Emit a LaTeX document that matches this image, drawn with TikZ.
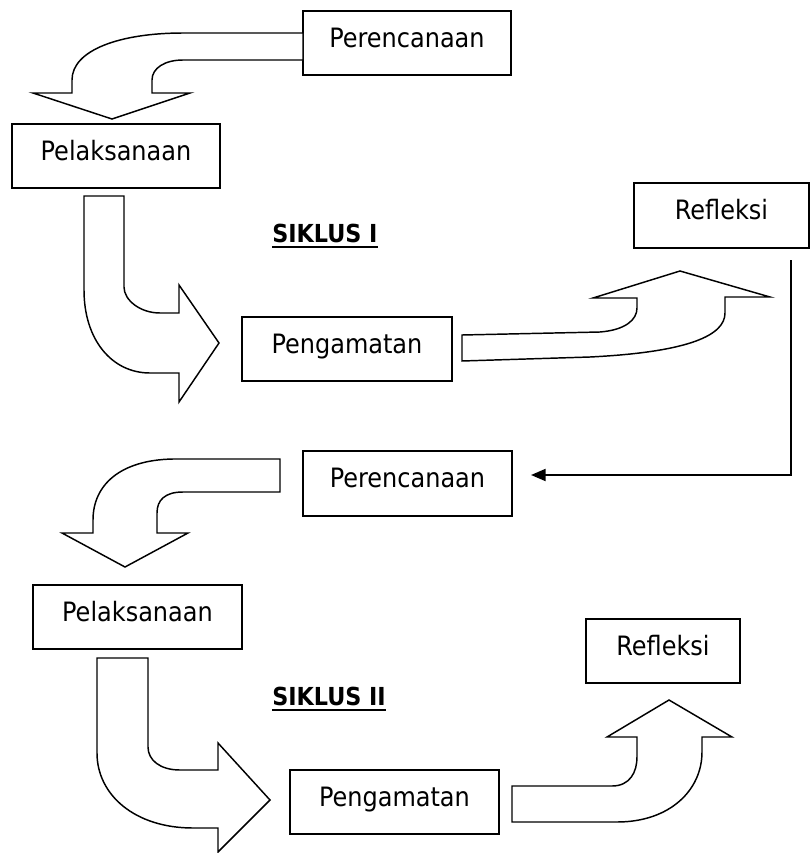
\documentclass[tikz,border=0pt]{standalone}
\usepackage{fontspec}
\setmainfont{DejaVu Sans Condensed}
\usetikzlibrary{arrows.meta}
\begin{document}
\begin{tikzpicture}[x=0.75pt,y=-0.75pt,
  box/.style={draw,line width=1.3pt,inner sep=0pt,text height=27pt,text depth=21pt,font=\fontsize{20}{24}\selectfont},
  boxb/.style={box,text depth=21.75pt},
  bigarrow/.style={draw,line width=1.1pt,line join=miter,fill=white},
  conn/.style={line width=1.5pt,-{Triangle[length=11pt,width=9pt]}},
  siklus/.style={inner sep=0pt,anchor=base west,font=\bfseries\fontsize{18.6}{22}\selectfont},
  uline/.style={line width=1.6pt}]
\useasboundingbox (0,0) rectangle (812,853);
% boxes
\node[box,minimum width=156pt] (P1) at (407,43) {Perencanaan};
\node[box,minimum width=156pt] (L1) at (116,156) {Pelaksanaan};
\node[boxb,minimum width=131.25pt] (R1) at (721.5,215.5) {Refleksi};
\node[box,minimum width=157.5pt] (G1) at (347,349) {Pengamatan};
\node[boxb,minimum width=156.75pt] (P2) at (407.5,483.5) {Perencanaan};
\node[box,minimum width=156.75pt] (L2) at (137.5,617) {Pelaksanaan};
\node[box,minimum width=115.5pt] (R2) at (663,651) {Refleksi};
\node[box,minimum width=156.75pt] (G2) at (394.5,802) {Pengamatan};
% labels
\node[siklus] (S1) at (272,242) {SIKLUS I};
\draw[uline] ([yshift=-4pt]S1.base west) -- ([yshift=-4pt]S1.base east);
\node[siklus] (S2) at (272,705) {SIKLUS II};
\draw[uline] ([yshift=-4pt]S2.base west) -- ([yshift=-4pt]S2.base east);
% block arrows
\draw[bigarrow] (303,33) -- (183,33) .. controls (120,33) and (72,50) .. (72,80) -- (72,93) -- (33,93) -- (112,119) -- (190,93) -- (152,93) -- (152,80) .. controls (152,68) and (165,60) .. (183,60) -- (303,60) -- cycle;
\draw[bigarrow] (84,196) -- (84,290) .. controls (84,340) and (112,373) .. (150,373) -- (179,373) -- (179,402) -- (219,343) -- (179,285) -- (179,313) -- (160,313) .. controls (140,313) and (124,300) .. (124,287) -- (124,196) -- cycle;
\draw[bigarrow] (462,335) -- (462,361) -- (590,357) .. controls (690,352) and (725,335) .. (725,313) -- (725,297) -- (770,297) -- (680,271) -- (593,298) -- (637,298) -- (637,308) .. controls (637,320) and (625,330) .. (600,332) -- cycle;
\draw[bigarrow] (280,459) -- (173,459) .. controls (120,460) and (93,485) .. (93,520) -- (93,533) -- (62,533) -- (125,567) -- (188,533) -- (157,533) -- (157,513) .. controls (157,500) and (165,492) .. (183,492) -- (280,492) -- cycle;
\draw[bigarrow] (97,658) -- (97,753) .. controls (97,795) and (135,828) .. (193,828) -- (218,828) -- (218,852) -- (270,800) -- (218,743) -- (218,770) -- (180,770) .. controls (160,770) and (148,760) .. (148,747) -- (148,658) -- cycle;
\draw[bigarrow] (512,786) -- (612,786) .. controls (630,786) and (637,772) .. (637,757) -- (637,737) -- (607,737) -- (669,700) -- (732,737) -- (702,737) -- (702,752) .. controls (702,790) and (670,822) .. (617,822) -- (512,822) -- cycle;
% connector Refleksi -> Perencanaan
\coordinate (c1) at (791,260);
\coordinate (c2) at (531,475);
\draw[conn] (c1) |- (c2);
\end{tikzpicture}
\end{document}
